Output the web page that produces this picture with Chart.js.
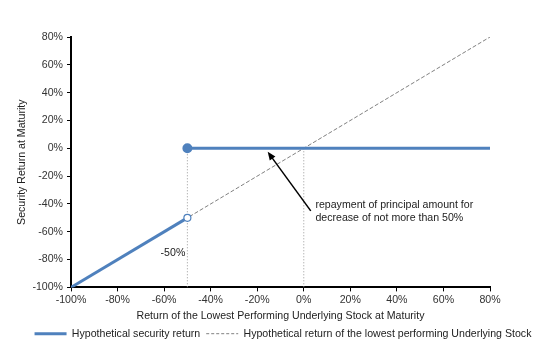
<!DOCTYPE html>
<html>
<head>
<meta charset="utf-8">
<script src="https://cdn.jsdelivr.net/npm/chart.js@4.4.1/dist/chart.umd.min.js"></script>
<style>
  html, body { margin: 0; padding: 0; background: #fff; }
  #wrap { width: 554px; height: 353px; }
</style>
</head>
<body>
<div id="wrap"><canvas id="chart" width="554" height="353"></canvas></div>
<script>
// Stock return at maturity (x, %) -> security return (y, %)
const lossX = [-100, -50];
const lossY = [-100, -50];
const protectX = [-50, 80];
const protectY = [0, 0];
const stockX = [-100, 80];
const stockY = [-100, 80];
const barrierX = [-50, -50];
const barrierY = [0, -100];
const zeroX = [0, 0];
const zeroY = [0, -100];

const xTicks = [-100, -80, -60, -40, -20, 0, 20, 40, 60, 80];
const yTicks = [-100, -80, -60, -40, -20, 0, 20, 40, 60, 80];

const seriesNames = [
  "Hypothetical security return",
  "Hypothetical return of the lowest performing Underlying Stock"
];

// annotation: arrow from tail to tip, text beside tail
const arrowTail = { x: 3, y: -45 };
const arrowTip = { x: -15.5, y: -2.5 };
const noteLines = ["repayment of principal amount for", "decrease of not more than 50%"];
const noteAt = { x: 5, y: -41 };
const barrierLabel = { text: "-50%", x: -56.2, y: -75 };

const toPoints = (xs, ys) => xs.map((x, i) => ({ x: x, y: ys[i] }));

const BLUE = "#4f81bd";
const GREY = "#808080";
const FONT = "'Liberation Sans', Arial, sans-serif";
const FS = 10.6;

const annotations = {
  id: "annotations",
  afterDatasetsDraw(chart) {
    const ctx = chart.ctx;
    const xs = chart.scales.x;
    const ys = chart.scales.y;
    ctx.save();
    // arrow
    const x1 = xs.getPixelForValue(arrowTail.x), y1 = ys.getPixelForValue(arrowTail.y);
    const x2 = xs.getPixelForValue(arrowTip.x), y2 = ys.getPixelForValue(arrowTip.y);
    const ang = Math.atan2(y2 - y1, x2 - x1);
    const head = 9;
    ctx.strokeStyle = "#000";
    ctx.fillStyle = "#000";
    ctx.lineWidth = 1.5;
    ctx.beginPath();
    ctx.moveTo(x1, y1);
    ctx.lineTo(x2 - Math.cos(ang) * head * 0.8, y2 - Math.sin(ang) * head * 0.8);
    ctx.stroke();
    ctx.beginPath();
    ctx.moveTo(x2, y2);
    ctx.lineTo(x2 - head * Math.cos(ang - 0.4), y2 - head * Math.sin(ang - 0.4));
    ctx.lineTo(x2 - head * Math.cos(ang + 0.4), y2 - head * Math.sin(ang + 0.4));
    ctx.closePath();
    ctx.fill();
    // texts
    ctx.fillStyle = "#222";
    ctx.font = FS + "px " + FONT;
    ctx.textBaseline = "middle";
    ctx.textAlign = "left";
    const tx = xs.getPixelForValue(noteAt.x);
    const ty = ys.getPixelForValue(noteAt.y);
    noteLines.forEach((line, i) => ctx.fillText(line, tx, ty + i * 12.5));
    ctx.textAlign = "center";
    ctx.fillText(barrierLabel.text, xs.getPixelForValue(barrierLabel.x), ys.getPixelForValue(barrierLabel.y));
    ctx.restore();
  }
};

const ctx = document.getElementById("chart").getContext("2d");
new Chart(ctx, {
  type: "line",
  data: {
    datasets: [
      {
        label: seriesNames[0],
        data: toPoints(protectX, protectY),
        borderColor: BLUE,
        backgroundColor: BLUE,
        borderWidth: 3,
        pointRadius: [3.5, 0],
        pointBackgroundColor: BLUE,
        pointBorderColor: BLUE,
        order: 1
      },
      {
        label: "loss",
        data: toPoints(lossX, lossY),
        borderColor: BLUE,
        borderWidth: 3,
        pointRadius: [0, 3.5],
        pointBackgroundColor: "#fff",
        pointBorderColor: BLUE,
        pointBorderWidth: 1.2,
        order: 0
      },
      {
        label: seriesNames[1],
        data: toPoints(stockX, stockY),
        borderColor: GREY,
        backgroundColor: GREY,
        borderWidth: 1,
        borderDash: [4, 2],
        pointRadius: 0,
        order: 3
      },
      {
        label: "barrier",
        data: toPoints(barrierX, barrierY),
        borderColor: "#999",
        borderWidth: 1,
        borderDash: [1, 2],
        pointRadius: 0,
        order: 4
      },
      {
        label: "zero",
        data: toPoints(zeroX, zeroY),
        borderColor: "#999",
        borderWidth: 1,
        borderDash: [1, 2],
        pointRadius: 0,
        order: 4
      }
    ]
  },
  options: {
    responsive: false,
    animation: false,
    layout: { padding: { left: 16, right: 4, top: 37, bottom: 4 } },
    plugins: {
      tooltip: { enabled: false },
      legend: {
        position: "bottom",
        labels: {
          filter: (item) => seriesNames.includes(item.text),
          usePointStyle: true,
          pointStyle: "line",
          pointStyleWidth: 32,
          boxWidth: 32,
          boxHeight: 11,
          padding: 6,
          color: "#222",
          font: { family: FONT, size: FS },
          generateLabels(chart) {
            const items = Chart.defaults.plugins.legend.labels.generateLabels(chart);
            items.forEach((it) => {
              it.pointStyle = "line";
              if (it.text === seriesNames[0]) {
                it.lineWidth = 3;
              } else {
                it.lineWidth = 1;
                it.lineDash = [3, 2];
              }
            });
            return items;
          }
        }
      }
    },
    scales: {
      x: {
        type: "linear",
        min: -100,
        max: 80,
        afterBuildTicks: (s) => { s.ticks = xTicks.map((v) => ({ value: v })); },
        ticks: {
          color: "#333",
          font: { family: FONT, size: FS },
          padding: 2,
          maxRotation: 0,
          callback: (v) => v + "%"
        },
        grid: { drawOnChartArea: false, drawTicks: true, tickLength: 4, color: "#000", lineWidth: 1 },
        border: { color: "#000", width: 2 },
        title: {
          display: true,
          text: "Return of the Lowest Performing Underlying Stock at Maturity",
          color: "#222",
          font: { family: FONT, size: FS },
          padding: { top: 2, bottom: 0 }
        },
        afterFit: (s) => { s.height = 35; }
      },
      y: {
        type: "linear",
        min: -100,
        max: 80,
        afterBuildTicks: (s) => { s.ticks = yTicks.map((v) => ({ value: v })); },
        ticks: {
          color: "#333",
          font: { family: FONT, size: FS },
          padding: 4,
          callback: (v) => v + "%"
        },
        grid: { drawOnChartArea: false, drawTicks: true, tickLength: 4, color: "#000", lineWidth: 1 },
        border: { color: "#000", width: 2 },
        title: {
          display: true,
          text: "Security Return at Maturity",
          color: "#222",
          font: { family: FONT, size: FS },
          padding: { top: 0, bottom: 4 }
        },
        afterFit: (s) => { s.width = 55; }
      },
      // empty right-side spacer so the plot ends where the reference does
      spacer: {
        type: "linear",
        position: "right",
        display: true,
        ticks: { display: false },
        grid: { display: false },
        border: { display: false },
        afterFit: (s) => { s.width = 60; }
      }
    }
  },
  plugins: [annotations]
});
</script>
</body>
</html>
